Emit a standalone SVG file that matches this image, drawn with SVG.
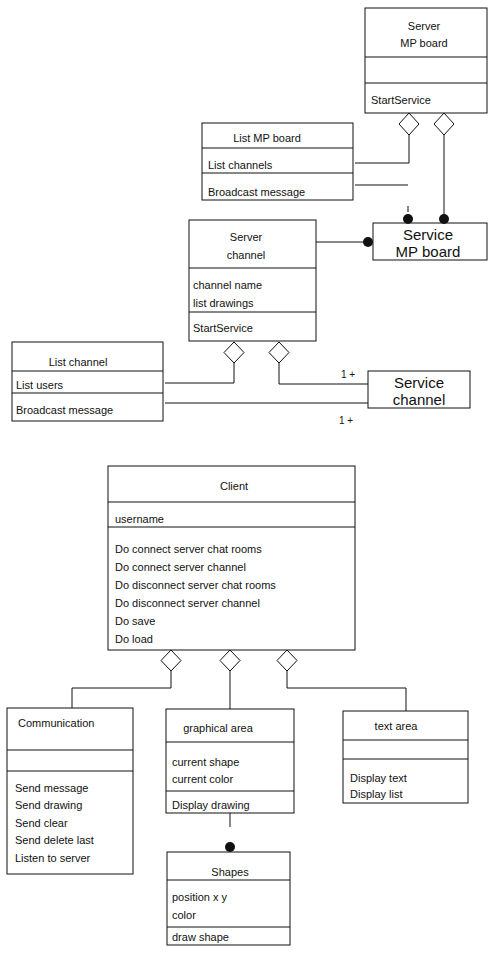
<svg xmlns="http://www.w3.org/2000/svg" width="489" height="956" viewBox="0 0 489 956">
  <style>
    .box { fill: #ffffff; stroke: #111111; stroke-width: 1; }
    .div { stroke: #111111; stroke-width: 1; fill: none; }
    .t { font-family: "Liberation Sans", Arial, sans-serif; font-size: 11px; fill: #111111; }
    .c { text-anchor: middle; }
    .big { font-family: "Liberation Sans", Arial, sans-serif; font-size: 15px; fill: #111111; text-anchor: middle; }
    .small { font-family: "Liberation Sans", Arial, sans-serif; font-size: 10px; fill: #111111; }
    .wire { stroke: #111111; stroke-width: 1; fill: none; }
    .agg { fill: #ffffff; stroke: #111111; stroke-width: 1; }
    .dot { fill: #111111; }
  </style>
  <rect width="489" height="956" fill="#ffffff"/>

  <!-- Server side -->
  <g id="server-mp-board">
    <rect class="box" x="365" y="8" width="122" height="105"/>
    <line class="div" x1="365" y1="57" x2="487" y2="57"/>
    <line class="div" x1="365" y1="83" x2="487" y2="83"/>
    <text class="t c" x="424" y="30">Server</text>
    <text class="t c" x="424" y="47">MP board</text>
    <text class="t" x="371" y="104">StartService</text>
  </g>

  <g id="list-mp-board">
    <rect class="box" x="202" y="123" width="151" height="77"/>
    <line class="div" x1="202" y1="148" x2="353" y2="148"/>
    <line class="div" x1="202" y1="173" x2="353" y2="173"/>
    <text class="t c" x="267" y="142">List MP board</text>
    <text class="t" x="208" y="169">List channels</text>
    <text class="t" x="208" y="196">Broadcast message</text>
  </g>

  <g id="service-mp-board">
    <rect class="box" x="373" y="223" width="114" height="37"/>
    <text class="big" x="428" y="240">Service</text>
    <text class="big" x="428" y="257">MP board</text>
  </g>

  <g id="server-channel">
    <rect class="box" x="189" y="220" width="127" height="121"/>
    <line class="div" x1="189" y1="268" x2="316" y2="268"/>
    <line class="div" x1="189" y1="312" x2="316" y2="312"/>
    <text class="t c" x="246" y="241">Server</text>
    <text class="t c" x="246" y="259">channel</text>
    <text class="t" x="193" y="289">channel name</text>
    <text class="t" x="193" y="307">list drawings</text>
    <text class="t" x="193" y="332">StartService</text>
  </g>

  <g id="list-channel">
    <rect class="box" x="12" y="342" width="151" height="79"/>
    <line class="div" x1="12" y1="371" x2="163" y2="371"/>
    <line class="div" x1="12" y1="393" x2="163" y2="393"/>
    <text class="t c" x="78" y="366">List channel</text>
    <text class="t" x="16" y="389">List users</text>
    <text class="t" x="16" y="414">Broadcast message</text>
  </g>

  <g id="service-channel">
    <rect class="box" x="368" y="371" width="102" height="37"/>
    <text class="big" x="419" y="388">Service</text>
    <text class="big" x="419" y="405">channel</text>
  </g>

  <!-- Client side -->
  <g id="client">
    <rect class="box" x="108" y="466" width="247" height="184"/>
    <line class="div" x1="108" y1="502" x2="355" y2="502"/>
    <line class="div" x1="108" y1="527" x2="355" y2="527"/>
    <text class="t c" x="234" y="490">Client</text>
    <text class="t" x="115" y="523">username</text>
    <text class="t" x="115" y="553">Do connect server chat rooms</text>
    <text class="t" x="115" y="571">Do connect server channel</text>
    <text class="t" x="115" y="589">Do disconnect server chat rooms</text>
    <text class="t" x="115" y="607">Do disconnect server channel</text>
    <text class="t" x="115" y="625">Do save</text>
    <text class="t" x="115" y="643">Do load</text>
  </g>

  <g id="communication">
    <rect class="box" x="7" y="708" width="126" height="166"/>
    <line class="div" x1="7" y1="750" x2="133" y2="750"/>
    <line class="div" x1="7" y1="771" x2="133" y2="771"/>
    <text class="t" x="18" y="727">Communication</text>
    <text class="t" x="15" y="792">Send message</text>
    <text class="t" x="15" y="809">Send drawing</text>
    <text class="t" x="15" y="827">Send clear</text>
    <text class="t" x="15" y="844">Send delete last</text>
    <text class="t" x="15" y="862">Listen to server</text>
  </g>

  <g id="graphical-area">
    <rect class="box" x="166" y="709" width="128" height="104"/>
    <line class="div" x1="166" y1="742" x2="294" y2="742"/>
    <line class="div" x1="166" y1="791" x2="294" y2="791"/>
    <text class="t c" x="218" y="732">graphical area</text>
    <text class="t" x="172" y="766">current shape</text>
    <text class="t" x="172" y="783">current color</text>
    <text class="t" x="172" y="809">Display drawing</text>
  </g>

  <g id="text-area">
    <rect class="box" x="343" y="711" width="125" height="92"/>
    <line class="div" x1="343" y1="740" x2="468" y2="740"/>
    <line class="div" x1="343" y1="759" x2="468" y2="759"/>
    <text class="t c" x="396" y="730">text area</text>
    <text class="t" x="350" y="782">Display text</text>
    <text class="t" x="350" y="798">Display list</text>
  </g>

  <g id="shapes">
    <rect class="box" x="167" y="852" width="123" height="93"/>
    <line class="div" x1="167" y1="880" x2="290" y2="880"/>
    <line class="div" x1="167" y1="927" x2="290" y2="927"/>
    <text class="t c" x="230" y="876">Shapes</text>
    <text class="t" x="172" y="901">position x y</text>
    <text class="t" x="172" y="919">color</text>
    <text class="t" x="172" y="941">draw shape</text>
  </g>

  <!-- Connectors: aggregation diamonds, links and ball ends -->
  <g id="connectors">
    <!-- Server MP board aggregations -->
    <path class="agg" d="M409 113 L419 124 L409 135 L399 124 Z"/>
    <path class="agg" d="M444 113 L454 124 L444 135 L434 124 Z"/>
    <path class="wire" d="M409 135 V163 H355"/>
    <path class="wire" d="M444 135 V215"/>
    <circle class="dot" cx="444" cy="219" r="5"/>
    <path class="wire" d="M355 185 H408"/>
    <path class="wire" d="M408 206 V212"/>
    <circle class="dot" cx="408" cy="219" r="5"/>
    <path class="wire" d="M316 242 H364"/>
    <circle class="dot" cx="368" cy="242" r="5"/>

    <!-- Server channel aggregations -->
    <path class="agg" d="M234 342 L244 352.5 L234 363 L224 352.5 Z"/>
    <path class="agg" d="M279 342 L289 352.5 L279 363 L269 352.5 Z"/>
    <path class="wire" d="M234 363 V383 H165"/>
    <path class="wire" d="M279 363 V384 H368"/>
    <path class="wire" d="M165 403 H368"/>
    <text class="small" x="341" y="378">1 +</text>
    <text class="small" x="339" y="424">1 +</text>

    <!-- Client aggregations -->
    <path class="agg" d="M171 650 L181 660.5 L171 671 L161 660.5 Z"/>
    <path class="agg" d="M230 650 L240 660.5 L230 671 L220 660.5 Z"/>
    <path class="agg" d="M287 650 L297 660.5 L287 671 L277 660.5 Z"/>
    <path class="wire" d="M171 671 V688 H72 V708"/>
    <path class="wire" d="M230 671 V709"/>
    <path class="wire" d="M287 671 V688 H406 V711"/>

    <!-- graphical area to Shapes -->
    <path class="wire" d="M230 813 V827"/>
    <circle class="dot" cx="230" cy="847" r="5"/>
  </g>
</svg>
